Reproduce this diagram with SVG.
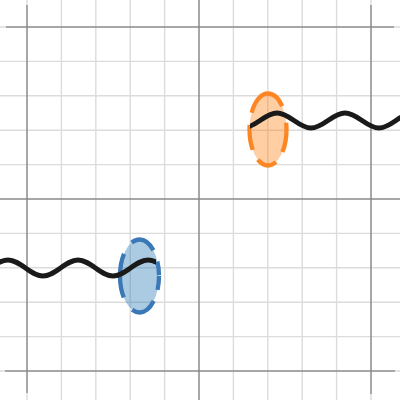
<svg xmlns="http://www.w3.org/2000/svg" width="400" height="400" viewBox="0 0 400 400">
  <defs>
    <style>
      .minor { stroke: #dcdcdc; stroke-width: 1.4; fill: none; }
      .major { stroke: #8a8a8a; stroke-width: 1.5; fill: none; }
      .wave { stroke: #1a1a1a; stroke-width: 4.8; fill: none; stroke-linejoin: round; }
      .orange { fill: #ff7f0e; fill-opacity: 0.38; stroke: #fd8624; stroke-width: 4.3; }
      .blue { fill: #1f77b4; fill-opacity: 0.38; stroke: #3a78b7; stroke-width: 4.3; }
    </style>
    <clipPath id="clipTop"><rect x="250" y="0" width="150" height="400"/></clipPath>
    <clipPath id="clipBottom"><rect x="0" y="0" width="156" height="400"/></clipPath>
  </defs>
  <rect width="400" height="400" fill="#ffffff"/>
  <g id="grid">
    <path class="minor" d="M61.4,0V400M95.8,0V400M130.2,0V400M164.6,0V400M233.4,0V400M267.8,0V400M302.2,0V400M336.6,0V400"/>
    <path class="minor" d="M0,61.4H400M0,95.8H400M0,130.2H400M0,164.6H400M0,233.4H400M0,267.8H400M0,302.2H400M0,336.6H400"/>
    <path class="minor" d="M27,0V5M27,393V400M371,0V5M371,394V400M0,27H6M394,27H400M0,371H5M395,371H400"/>
    <path class="major" d="M6,27H394M5,371H395M27,5V393M371,5V394M199,0V400M0,199H400"/>
  </g>
  <g id="node-orange">
    <ellipse class="orange" cx="268" cy="129.5" rx="18.5" ry="36" stroke-dasharray="22.8 12 21.1 11.2 25.1 12.2 47.2 16.7 7.3"/>
  </g>
  <g id="node-blue">
    <ellipse class="blue" cx="139.5" cy="276" rx="19.5" ry="36.5" stroke-dasharray="13.9 11.8 27.1 15.3 44 13.9 27.1 11.8 13.9"/>
  </g>
  <g id="connectors">
    <path class="wave" clip-path="url(#clipTop)" d="M243,128 C255.4,128 264.6,113 277,113 C289.4,113 298.6,128 311,128 C323.4,128 332.6,113 345,113 C357.4,113 366.6,128 379,128 C391.4,128 400.6,113 413,113"/>
    <path class="wave" clip-path="url(#clipBottom)" d="M-27,276 C-14.3,276 -4.7,260 8,260 C20.7,260 30.3,276 43,276 C55.7,276 65.3,260 78,260 C90.7,260 100.3,276 113,276 C125.7,276 135.3,260 148,260 C160.7,260 170.3,276 183,276"/>
  </g>
</svg>
